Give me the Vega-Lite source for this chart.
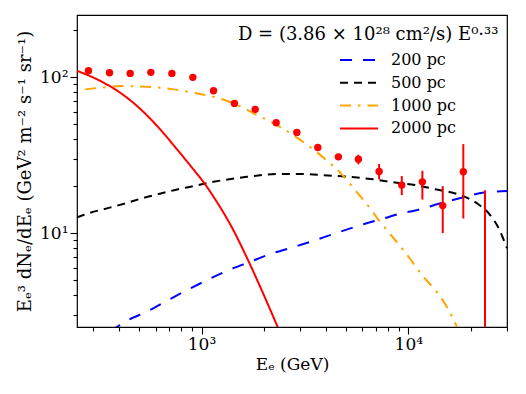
{
  "$schema": "https://vega.github.io/schema/vega-lite/v6.json",
  "width": 430,
  "height": 312,
  "autosize": {"type": "none"},
  "padding": {"left": 77, "top": 15, "right": 19, "bottom": 67},
  "background": "white",
  "config": {
    "view": {"stroke": "black", "strokeWidth": 1.2},
    "font": "DejaVu Serif",
    "axis": {
      "domain": false,
      "grid": false,
      "tickColor": "black",
      "tickWidth": 1.1,
      "labelColor": "black",
      "titleColor": "black",
      "labelFont": "DejaVu Serif",
      "titleFont": "DejaVu Serif",
      "labelFontSize": 17,
      "titleFontSize": 17,
      "titleFontWeight": "normal",
      "labelFlush": false,
      "labelOverlap": false
    }
  },
  "datasets": {
    "curves": [
      {"dist": "200 pc", "E": 362, "v": 2.32},
      {"dist": "200 pc", "E": 402, "v": 2.57},
      {"dist": "200 pc", "E": 449, "v": 2.80},
      {"dist": "200 pc", "E": 535, "v": 3.10},
      {"dist": "200 pc", "E": 644, "v": 3.54},
      {"dist": "200 pc", "E": 819, "v": 4.20},
      {"dist": "200 pc", "E": 1022, "v": 4.87},
      {"dist": "200 pc", "E": 1327, "v": 5.73},
      {"dist": "200 pc", "E": 1719, "v": 6.55},
      {"dist": "200 pc", "E": 2147, "v": 7.33},
      {"dist": "200 pc", "E": 3000, "v": 8.38},
      {"dist": "200 pc", "E": 3886, "v": 9.38},
      {"dist": "200 pc", "E": 4678, "v": 10.2},
      {"dist": "200 pc", "E": 6064, "v": 11.4},
      {"dist": "200 pc", "E": 7576, "v": 12.4},
      {"dist": "200 pc", "E": 9463, "v": 13.5},
      {"dist": "200 pc", "E": 10659, "v": 13.9},
      {"dist": "200 pc", "E": 12276, "v": 14.6},
      {"dist": "200 pc", "E": 13767, "v": 15.3},
      {"dist": "200 pc", "E": 17977, "v": 16.8},
      {"dist": "200 pc", "E": 23223, "v": 18.2},
      {"dist": "200 pc", "E": 30000, "v": 18.6},
      {"dist": "500 pc", "E": 250, "v": 12.6},
      {"dist": "500 pc", "E": 290, "v": 13.5},
      {"dist": "500 pc", "E": 349, "v": 14.4},
      {"dist": "500 pc", "E": 428, "v": 15.5},
      {"dist": "500 pc", "E": 515, "v": 16.7},
      {"dist": "500 pc", "E": 620, "v": 17.8},
      {"dist": "500 pc", "E": 746, "v": 18.9},
      {"dist": "500 pc", "E": 915, "v": 20.0},
      {"dist": "500 pc", "E": 1143, "v": 21.3},
      {"dist": "500 pc", "E": 1596, "v": 22.8},
      {"dist": "500 pc", "E": 2401, "v": 23.9},
      {"dist": "500 pc", "E": 3000, "v": 23.9},
      {"dist": "500 pc", "E": 3886, "v": 23.5},
      {"dist": "500 pc", "E": 5041, "v": 23.0},
      {"dist": "500 pc", "E": 6777, "v": 22.1},
      {"dist": "500 pc", "E": 8795, "v": 21.0},
      {"dist": "500 pc", "E": 10780, "v": 20.3},
      {"dist": "500 pc", "E": 13723, "v": 19.0},
      {"dist": "500 pc", "E": 18118, "v": 17.4},
      {"dist": "500 pc", "E": 21800, "v": 15.3},
      {"dist": "500 pc", "E": 24695, "v": 13.2},
      {"dist": "500 pc", "E": 27230, "v": 10.85},
      {"dist": "500 pc", "E": 30000, "v": 8.0},
      {"dist": "1000 pc", "E": 274, "v": 83.4},
      {"dist": "1000 pc", "E": 336, "v": 85.9},
      {"dist": "1000 pc", "E": 405, "v": 87.6},
      {"dist": "1000 pc", "E": 545, "v": 86.7},
      {"dist": "1000 pc", "E": 732, "v": 83.4},
      {"dist": "1000 pc", "E": 915, "v": 79.3},
      {"dist": "1000 pc", "E": 1143, "v": 74.8},
      {"dist": "1000 pc", "E": 1428, "v": 67.8},
      {"dist": "1000 pc", "E": 1838, "v": 57.5},
      {"dist": "1000 pc", "E": 2469, "v": 46.9},
      {"dist": "1000 pc", "E": 3171, "v": 37.6},
      {"dist": "1000 pc", "E": 4036, "v": 29.2},
      {"dist": "1000 pc", "E": 4769, "v": 23.8},
      {"dist": "1000 pc", "E": 5636, "v": 18.3},
      {"dist": "1000 pc", "E": 6535, "v": 14.4},
      {"dist": "1000 pc", "E": 7303, "v": 11.8},
      {"dist": "1000 pc", "E": 8470, "v": 9.3},
      {"dist": "1000 pc", "E": 9465, "v": 7.78},
      {"dist": "1000 pc", "E": 10578, "v": 6.40},
      {"dist": "1000 pc", "E": 11822, "v": 5.25},
      {"dist": "1000 pc", "E": 13725, "v": 4.2},
      {"dist": "1000 pc", "E": 15340, "v": 3.37},
      {"dist": "1000 pc", "E": 17144, "v": 2.51},
      {"dist": "1000 pc", "E": 18190, "v": 2.06},
      {"dist": "2000 pc", "E": 250, "v": 109.7},
      {"dist": "2000 pc", "E": 330, "v": 93.3},
      {"dist": "2000 pc", "E": 405, "v": 79.3},
      {"dist": "2000 pc", "E": 524, "v": 59.8},
      {"dist": "2000 pc", "E": 632, "v": 46.1},
      {"dist": "2000 pc", "E": 760, "v": 34.5},
      {"dist": "2000 pc", "E": 899, "v": 26.3},
      {"dist": "2000 pc", "E": 1042, "v": 20.5},
      {"dist": "2000 pc", "E": 1143, "v": 17.1},
      {"dist": "2000 pc", "E": 1278, "v": 13.5},
      {"dist": "2000 pc", "E": 1428, "v": 10.4},
      {"dist": "2000 pc", "E": 1596, "v": 7.72},
      {"dist": "2000 pc", "E": 1719, "v": 6.27},
      {"dist": "2000 pc", "E": 1852, "v": 5.05},
      {"dist": "2000 pc", "E": 2032, "v": 3.83},
      {"dist": "2000 pc", "E": 2329, "v": 2.52},
      {"dist": "2000 pc", "E": 2482, "v": 2.07}
    ],
    "points": [
      {"E": 284, "v": 109.7, "lo": 109.7, "hi": 109.7},
      {"E": 359, "v": 106.6, "lo": 106.6, "hi": 106.6},
      {"E": 452, "v": 105.6, "lo": 105.6, "hi": 105.6},
      {"E": 569, "v": 107.2, "lo": 107.2, "hi": 107.2},
      {"E": 719, "v": 105.6, "lo": 105.6, "hi": 105.6},
      {"E": 908, "v": 99.6, "lo": 99.6, "hi": 99.6},
      {"E": 1143, "v": 81.7, "lo": 81.7, "hi": 81.7},
      {"E": 1443, "v": 67.8, "lo": 67.8, "hi": 67.8},
      {"E": 1818, "v": 62.1, "lo": 62.1, "hi": 62.1},
      {"E": 2296, "v": 50.9, "lo": 50.9, "hi": 50.9},
      {"E": 2891, "v": 44.2, "lo": 44.2, "hi": 44.2},
      {"E": 3651, "v": 35.4, "lo": 35.4, "hi": 35.4},
      {"E": 4591, "v": 30.8, "lo": 29.5, "hi": 32.2},
      {"E": 5736, "v": 29.7, "lo": 27.6, "hi": 31.8},
      {"E": 7222, "v": 24.8, "lo": 22.1, "hi": 27.7},
      {"E": 9296, "v": 20.3, "lo": 17.5, "hi": 23.2},
      {"E": 11694, "v": 21.3, "lo": 16.4, "hi": 25.1},
      {"E": 14670, "v": 15.0, "lo": 10.0, "hi": 20.0},
      {"E": 18447, "v": 24.7, "lo": 12.4, "hi": 37.2},
      {"E": 23486, "v": 1.5, "lo": 0.5, "hi": 18.8}
    ],
    "note": [
      {"label": "D = (3.86 × 10²⁸ cm²/s) E⁰·³³", "E": 27290, "v": 187.3}
    ]
  },
  "encoding": {
    "x": {
      "field": "E",
      "type": "quantitative",
      "scale": {"type": "log", "domain": [250, 30000], "nice": false},
      "axis": {
        "title": "Eₑ (GeV)",
        "values": [300, 400, 500, 600, 700, 800, 900, 1000, 2000, 3000, 4000, 5000, 6000, 7000, 8000, 9000, 10000, 20000, 30000],
        "labelExpr": "datum.value == 1000 ? '10³' : datum.value == 10000 ? '10⁴' : ''",
        "tickSize": {"condition": {"test": "datum.value == 1000 || datum.value == 10000", "value": 7}, "value": 4},
        "labelPadding": 2,
        "titlePadding": 4
      }
    },
    "y": {
      "field": "v",
      "type": "quantitative",
      "scale": {"type": "log", "domain": [2.5, 250], "nice": false},
      "axis": {
        "title": "Eₑ³ dNₑ/dEₑ (GeV² m⁻² s⁻¹ sr⁻¹)",
        "titleFontSize": 18,
        "values": [3, 4, 5, 6, 7, 8, 9, 10, 20, 30, 40, 50, 60, 70, 80, 90, 100, 200],
        "labelExpr": "datum.value == 10 ? '10¹' : datum.value == 100 ? '10²' : ''",
        "tickSize": {"condition": {"test": "datum.value == 10 || datum.value == 100", "value": 7}, "value": 4},
        "labelPadding": 2,
        "titlePadding": 5
      }
    }
  },
  "layer": [
    {
      "data": {"name": "curves"},
      "mark": {"type": "line", "clip": true, "strokeWidth": 2, "interpolate": "monotone"},
      "encoding": {
        "color": {
          "field": "dist",
          "type": "nominal",
          "scale": {"domain": ["200 pc", "500 pc", "1000 pc", "2000 pc"], "range": ["#0000ff", "#000000", "#ffa500", "#ff0000"]},
          "legend": {"orient": "none", "legendX": 274, "legendY": 37, "title": null, "symbolType": "M-3.8,0H3.8", "symbolSize": 100, "symbolStrokeWidth": 2, "labelFont": "DejaVu Serif", "labelFontSize": 16, "labelOffset": 24, "rowPadding": 6.8, "padding": 0, "labelColor": "black"}
        },
        "strokeDash": {
          "field": "dist",
          "type": "nominal",
          "scale": {"domain": ["200 pc", "500 pc", "1000 pc", "2000 pc"], "range": [[12, 11], [8, 6], [11, 7, 2.5, 7], [1, 0]]},
          "legend": {"orient": "none", "legendX": 274, "legendY": 37, "title": null, "symbolType": "M-3.8,0H3.8", "symbolSize": 100, "symbolStrokeWidth": 2, "labelFont": "DejaVu Serif", "labelFontSize": 16, "labelOffset": 24, "rowPadding": 6.8, "padding": 0, "labelColor": "black"}
        }
      }
    },
    {
      "data": {"name": "points"},
      "mark": {"type": "rule", "clip": true, "color": "#ff0000", "strokeWidth": 2},
      "encoding": {
        "y": {"field": "lo", "type": "quantitative", "title": "Eₑ³ dNₑ/dEₑ (GeV² m⁻² s⁻¹ sr⁻¹)"},
        "y2": {"field": "hi"}
      }
    },
    {
      "data": {"name": "points"},
      "mark": {"type": "point", "clip": true, "filled": true, "color": "#ff0000", "opacity": 1, "size": 55}
    },
    {
      "data": {"name": "note"},
      "mark": {"type": "text", "align": "right", "baseline": "middle", "fontSize": 18, "font": "DejaVu Serif", "color": "black"},
      "encoding": {"text": {"field": "label"}}
    }
  ]
}
